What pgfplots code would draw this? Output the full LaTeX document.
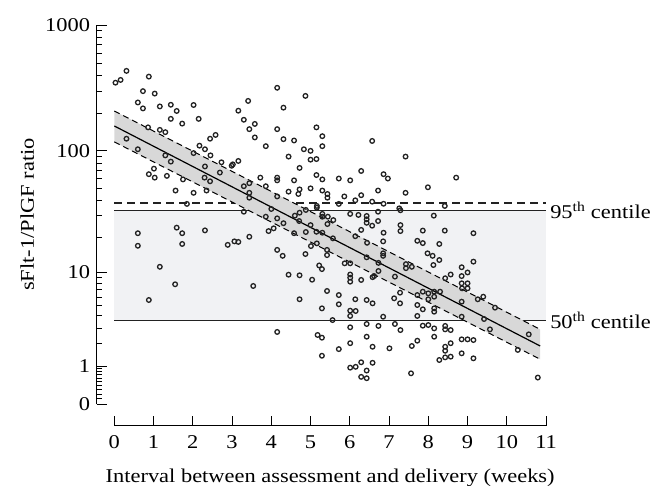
\documentclass[border=0pt]{standalone}
\usepackage{fontspec}
\setmainfont{Liberation Serif}[FakeStretch=1.15]
\usepackage{pgfplots}
\pgfplotsset{compat=1.18}
\usetikzlibrary{calc}
\definecolor{band}{HTML}{F1F2F4}
\definecolor{ci}{HTML}{D8D8D8}
\definecolor{pt}{HTML}{222222}

% interval (weeks), sFlt-1/PlGF ratio
\pgfplotstableread{
x y
0.03 349
0.16 367
0.31 433
0.88 390
0.73 299
1.03 286
0.60 243
0.73 218
1.16 226
1.44 233
1.59 208
2.02 232
1.44 180
1.73 165
0.86 154
1.16 147
1.30 141
0.31 125
0.60 103
1.30 92
2.02 96
1.44 82
1.01 72
0.88 65
1.03 61
1.34 63
1.75 59
1.56 48
2.02 46
1.85 37.4
1.59 23.9
0.60 21.5
1.73 21.5
2.15 180
4.15 318
3.41 250
4.31 221
3.16 209
3.30 177
3.58 164
3.44 149
4.15 149
3.58 128
4.31 124
2.44 125
2.58 134
3.86 109
2.17 110
2.31 103
2.45 92
2.73 81
3.02 78
2.99 76
3.16 83
2.31 75
2.69 67
2.30 61
2.44 57
2.35 48
3.72 61
4.15 61
4.15 58
3.44 55
3.30 52
3.86 52
3.44 46
3.44 42
4.15 43
3.30 32.3
4.00 34
3.86 29.4
4.15 28.5
4.31 26
4.06 23.6
3.93 22.4
2.31 22.7
3.44 20.1
4.87 274
5.15 154
5.30 131
4.58 121
6.57 120
5.30 109
4.83 103
5.00 100
4.44 90
5.00 85
5.15 86
4.72 73
6.29 69
5.15 64
5.30 59
5.72 60
6.01 58
4.58 58
4.44 47
4.72 49
4.69 45
5.00 50
5.30 48
5.43 45
5.43 42
5.86 43
6.29 44
6.14 40
6.57 39
5.72 37.4
5.16 36
5.16 34.8
4.88 33.4
4.72 31.7
4.60 30
5.30 31
5.30 29.4
5.44 29.4
5.58 27.6
5.43 25.6
6.01 31
6.22 30.4
6.43 29.8
6.43 28
6.43 26.2
6.57 24.8
6.29 22.9
5.00 25.1
4.71 27.1
4.58 21.5
4.88 22
5.15 22.1
5.30 21.7
7.42 90
6.86 65
6.97 60
8.71 61
7.99 51
6.72 48
7.42 46
6.86 37.5
8.42 36
7.26 34.4
7.29 33.2
6.72 32.3
8.14 30
6.72 27.1
7.29 25.1
7.29 22.4
6.86 21.7
7.86 22.6
8.42 22.6
9.15 21.5
5.57 19.5
6.85 18.4
6.14 20.3
6.44 17.9
7.72 18.6
7.86 17.8
8.28 17.5
0.60 16.9
1.73 17.5
1.16 11.2
1.55 7.87
0.88 5.66
2.89 17.2
3.06 18.4
3.16 18.2
4.15 15.6
4.29 13.9
3.54 7.6
4.15 2.72
4.44 9.56
4.72 9.45
4.87 14.4
5.01 16.8
5.16 17.7
5.04 8.64
5.22 11.5
5.29 10.7
4.72 5.75
5.29 4.72
5.42 6.85
5.42 15.6
5.42 14.1
5.18 2.52
5.29 2.35
5.29 1.41
5.87 12.0
6.01 12.0
6.01 9.6
6.01 9.0
6.01 8.3
6.29 8.6
6.43 13.5
6.58 9.1
6.62 9.3
6.73 12.1
6.85 14.6
6.85 13.9
6.73 10.3
7.15 9.2
7.43 11.8
7.58 11.2
7.43 10.9
7.98 14.6
8.11 13.9
8.13 11.6
8.28 12.8
8.85 11.1
9.00 10.0
8.85 9.3
9.15 12.4
8.85 8.03
9.00 8.03
9.00 7.24
8.86 7.24
8.43 8.9
8.57 9.6
5.72 6.29
5.72 5.16
6.14 5.75
6.43 5.66
6.58 5.27
7.28 6.61
7.13 5.87
7.28 5.27
7.72 6.29
7.86 6.75
8.00 6.52
8.15 6.75
8.30 6.75
8.00 5.75
8.15 6.07
7.72 5.08
7.86 4.62
7.72 3.98
8.15 4.72
8.15 4.38
8.85 5.46
9.26 5.75
9.40 6.07
9.70 4.79
8.85 3.91
9.42 3.71
6.01 4.48
6.15 4.45
6.01 3.98
5.56 3.62
6.01 3.05
6.43 3.30
6.43 2.41
6.73 3.15
6.85 3.91
7.15 3.30
7.29 2.85
7.86 3.17
8.00 3.22
8.15 2.97
8.15 2.41
8.43 3.15
8.43 2.90
8.57 2.85
9.57 2.90
5.72 1.72
6.01 2.03
6.58 1.84
7.01 1.76
7.58 1.88
7.72 2.17
8.43 1.84
8.43 1.64
8.57 2.03
8.85 2.25
9.00 2.25
9.15 2.21
8.85 1.52
9.15 1.30
8.28 1.23
8.43 1.34
8.57 1.37
6.01 0.94
6.15 0.97
6.29 1.14
6.43 0.84
6.29 0.64
6.43 0.60
6.58 1.12
7.56 0.75
10.28 1.68
10.56 2.56
10.79 0.62
}\ratio

\begin{document}
\fontsize{19.5bp}{23bp}\selectfont
\begin{tikzpicture}
\begin{axis}[
  x=39.25bp, y=126.3bp,
  xmin=0, xmax=11, ymin=0, ymax=1000,
  y coord trafo/.code={\pgfmathparse{ln(#1+1)*0.4342944819}},
  y coord inv trafo/.code={\pgfmathparse{exp(#1*2.302585093)-1}},
  axis lines*=left,
  axis x line shift=21.7bp,
  axis y line shift=17.6bp,
  axis line style={black, line width=0.9bp},
  clip=false,
  tick align=inside,
  major tick length=10bp, minor tick length=5bp,
  tick style={black, line width=0.9bp},
  xtick={0,1,2,3,4,5,6,7,8,9,10,11},
  ytick={0,1,10,100,1000},
  yticklabels={0,1,10,100,1000},
  minor ytick={0.1,0.2,0.3,0.4,0.5,0.6,0.7,0.8,0.9,2,3,4,5,6,7,8,9,20,30,40,50,60,70,80,90,200,300,400,500,600,700,800,900},
  /pgf/number format/assume math mode=true,
  xticklabel style={yshift=-3bp},
  xlabel={Interval between assessment and delivery (weeks)},
  xlabel style={yshift=-7bp},
  ylabel={sFlt-1/PlGF ratio},
  ylabel style={yshift=-2bp},
]
\coordinate (O) at (axis cs:0,0);
\addplot[fill=band, draw=none] coordinates {(0,3.6) (11,3.6) (11,33) (0,33)} -- cycle;
\addplot[pt, line width=1.2bp] coordinates {(0,33) (11,33)};
\addplot[pt, line width=1.2bp] coordinates {(0,3.6) (11,3.6)};
\addplot[pt, line width=1.2bp, dash pattern=on 8bp off 5bp] coordinates {(0,38) (11,38)};
\addplot[fill=ci, draw=none] coordinates {(0,208) (10.85,2.9) (10.85,1.26) (0,118)} -- cycle;
\addplot[black, line width=1bp, dash pattern=on 6bp off 4bp] coordinates {(0,208) (10.85,2.9)};
\addplot[black, line width=1bp, dash pattern=on 6bp off 4bp] coordinates {(0,118) (10.85,1.26)};
\addplot[black, line width=1.2bp] coordinates {(0,158) (10.85,1.88)};
\addplot[only marks, mark=o, mark size=2.3bp, mark options={line width=1.3bp, draw=pt, fill=none}] table {\ratio};
\node[anchor=west, inner sep=0pt, xshift=4bp] at (axis cs:11,33) {95\textsuperscript{th} centile};
\node[anchor=west, inner sep=0pt, xshift=4bp] at (axis cs:11,3.6) {50\textsuperscript{th} centile};
\end{axis}
\pgfresetboundingbox
\path ($(O)+(-114.3bp,404bp)$) rectangle ($(O)+(546.7bp,-82bp)$);
\end{tikzpicture}
\end{document}
